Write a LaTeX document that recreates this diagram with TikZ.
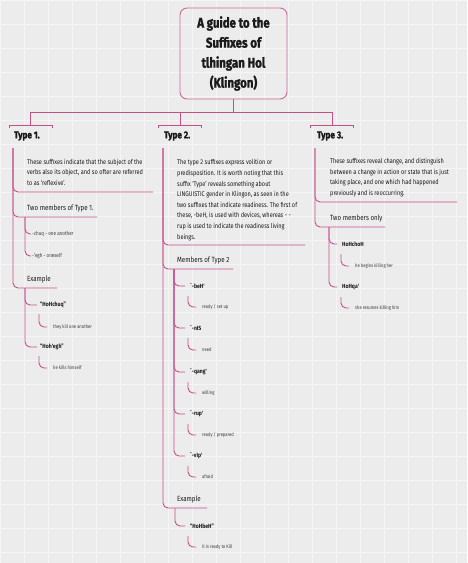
\documentclass[tikz,border=0pt]{standalone}
\usepackage{fontspec}
\setmainfont{Fira Sans}[FakeStretch=0.82,BoldFeatures={FakeBold=1.6}]
\newfontfamily\memfont{Fira Sans}[FakeStretch=0.85]
\definecolor{bgc}{HTML}{ECECEC}
\definecolor{gridc}{HTML}{F5F5F5}
\definecolor{pinkc}{HTML}{C4508B}
\definecolor{pinkt}{HTML}{D0679A}
\definecolor{ink}{HTML}{1A1A1A}
\begin{document}
\begin{tikzpicture}[x=1pt,y=-1pt,
  conn/.style={draw=pinkc,line width=0.9pt,rounded corners=5pt},
  link/.style={draw=pinkc,line width=0.9pt},
  titlebox/.style={draw=pinkt,line width=0.9pt,rounded corners=7pt,minimum width=107pt,minimum height=91pt,align=center,inner sep=0pt,font=\bfseries\fontsize{14}{20}\selectfont,text=ink},
  typ/.style={anchor=west,inner sep=0pt,font=\bfseries\fontsize{10}{12}\selectfont,text=ink},
  desc/.style={anchor=west,inner sep=0pt,align=left,font=\fontsize{6.8}{10.6}\selectfont,text=ink},
  item/.style={anchor=west,inner sep=0pt,font=\fontsize{7.5}{9}\selectfont,text=ink},
  mem/.style={anchor=west,inner sep=0pt,font=\memfont\bfseries\fontsize{6}{7}\selectfont,text=ink},
  sub/.style={anchor=west,inner sep=0pt,font=\fontsize{5}{6}\selectfont,text=ink!85},
  gridline/.style={draw=gridc,line width=0.6pt},
]
\useasboundingbox (0,0) rectangle (467,563);
\fill[bgc] (0,0) rectangle (467,563);
\foreach \g in {0,24,...,467}{\draw[gridline] (\g,0) -- (\g,563);}
\foreach \g in {0,24,...,563}{\draw[gridline] (0,\g) -- (467,\g);}

% ---------- title ----------
\node[titlebox] (title) at (233.5,53.5) {A guide to the\\Suffixes of\\tlhingan Hol\\(Klingon)};
\coordinate (hub) at (233.5,112);
\coordinate (hubL) at (30.5,112);
\coordinate (hubM) at (180,112);
\coordinate (hubR) at (332,112);
\coordinate (b1) at (30.5,125);
\coordinate (b2) at (180,125);
\coordinate (b3) at (332,125);
\draw[link] (title.south) -- (hub);
\draw[link] (hubL) -- (hubR);
\draw[link] (hubL) -- (b1);
\draw[link] (hubM) -- (b2);
\draw[link] (hubR) -- (b3);
\foreach \b in {b1,b2,b3}{
  \draw[link] ([xshift=-21.5pt,yshift=-3pt]\b) -- ([xshift=-21.5pt]\b) -- ([xshift=21.5pt]\b) -- ([xshift=21.5pt,yshift=-3pt]\b);
}

% ---------- Type 1 ----------
\node[typ] (ty1) at (14,136) {Type 1.};
\coordinate (t1) at (13,148);
\node[desc] (d1) at (27,172) {These suffixes indicate that the subject of the\\verbs also its object, and so ofter are referred\\to as `reflexive'.};
\coordinate (u1d) at (153,192);
\node[item] (m1) at (27,208) {Two members of Type 1.};
\coordinate (u1m) at (97,217);
\node[item] (e1) at (27,279) {Example};
\coordinate (u1e) at (57,288);
\draw[conn] (t1) |- (u1d);
\draw[conn] (t1) |- (u1m);
\draw[conn] (t1) |- (u1e);

\coordinate (s1) at (25,217);
\node[sub,font=\fontsize{5.5}{6}\selectfont] (a1) at (32,234) {-chuq - one another};
\node[sub,font=\fontsize{5.5}{6}\selectfont] (a2) at (32,256) {-'egh - oneself};
\draw[conn] (s1) |- ([xshift=-1pt]a1.west);
\draw[conn] (s1) |- ([xshift=-1pt]a2.west);

\coordinate (s1e) at (25,288);
\node[mem] (h1) at (40,305) {“HoHchuq”};
\node[mem] (h2) at (40,347) {“Hoh'egh”};
\draw[conn] (s1e) |- ([xshift=-3pt]h1.west);
\draw[conn] (s1e) |- ([xshift=-3pt]h2.west);
\node[sub] (k1) at (53,327) {they kill one another};
\node[sub] (k2) at (53,368) {he kills himself};
\coordinate (c1) at (39,314);
\coordinate (c2) at (39,356);
\draw[conn] (c1) |- ([xshift=-6pt]k1.west);
\draw[conn] (c2) |- ([xshift=-6pt]k2.west);

% ---------- Type 2 ----------
\node[typ] (ty2) at (164,136) {Type 2.};
\coordinate (t2) at (163,148);
\node[desc] (d2) at (177,200) {The type 2 suffixes express volition or\\predisposition. It is worth noting that this\\suffix `Type' reveals something about\\LINGUISTIC gender in Klingon, as seen in the\\two suffixes that indicate readiness. The first of\\these, -beH, is used with devices, whereas - -\\rup is used to indicate the readiness living\\beings.};
\coordinate (u2d) at (305,245);
\node[item] (m2) at (177,260) {Members of Type 2};
\coordinate (u2m) at (233,269);
\node[item] (e2) at (177,499) {Example};
\coordinate (u2e) at (207,508);
\draw[conn] (t2) |- (u2d);
\draw[conn] (t2) |- (u2m);
\draw[conn] (t2) |- (u2e);

\coordinate (s2) at (174,269);
\node[mem] (p1) at (190,286) {`-beH'};
\node[mem] (p2) at (190,328) {`-nIS};
\node[mem] (p3) at (190,372) {`-qang'};
\node[mem] (p4) at (190,414) {`-rup'};
\node[mem] (p5) at (190,456) {`-vIp'};
\node[sub] (q1) at (202,307) {ready / set up};
\node[sub] (q2) at (202,350) {need};
\node[sub] (q3) at (202,393) {willing};
\node[sub] (q4) at (202,435) {ready / prepared};
\node[sub] (q5) at (202,477) {afraid};
\foreach \i/\y in {1/296,2/338,3/382,4/424,5/466}{
  \draw[conn] (s2) |- ([xshift=-5pt]p\i.west);
  \coordinate (cq\i) at (188,\y);
  \draw[conn] (cq\i) |- ([xshift=-6pt]q\i.west);
}

\coordinate (s2e) at (175,508);
\node[mem] (h3) at (190,526) {“HoHbeH”};
\node[sub] (k3) at (202,547) {it is ready to Kill};
\draw[conn] (s2e) |- ([xshift=-5pt]h3.west);
\coordinate (c3) at (188,536);
\draw[conn] (c3) |- ([xshift=-6pt]k3.west);

% ---------- Type 3 ----------
\node[typ] (ty3) at (317,136) {Type 3.};
\coordinate (t3) at (315,148);
\node[desc] (d3) at (330,177.5) {These suffixes reveal change, and distinguish\\between a change in action or state that is just\\taking place, and one which had happened\\previously and is reoccurring.};
\coordinate (u3d) at (457,202);
\node[item] (m3) at (330,218) {Two members only};
\coordinate (u3m) at (385,227);
\draw[conn] (t3) |- (u3d);
\draw[conn] (t3) |- (u3m);

\coordinate (s3) at (329,227);
\node[mem] (r1) at (342,244) {HoHchoH};
\node[mem] (r2) at (342,287) {HoHqa'};
\draw[conn] (s3) |- ([xshift=-5pt]r1.west);
\draw[conn] (s3) |- ([xshift=-5pt]r2.west);
\node[sub] (w1) at (355,266) {he begins killing her};
\node[sub] (w2) at (355,308) {she resumes killing him};
\coordinate (cw1) at (341,254);
\coordinate (cw2) at (341,297);
\draw[conn] (cw1) |- ([xshift=-6pt]w1.west);
\draw[conn] (cw2) |- ([xshift=-6pt]w2.west);
\end{tikzpicture}
\end{document}
